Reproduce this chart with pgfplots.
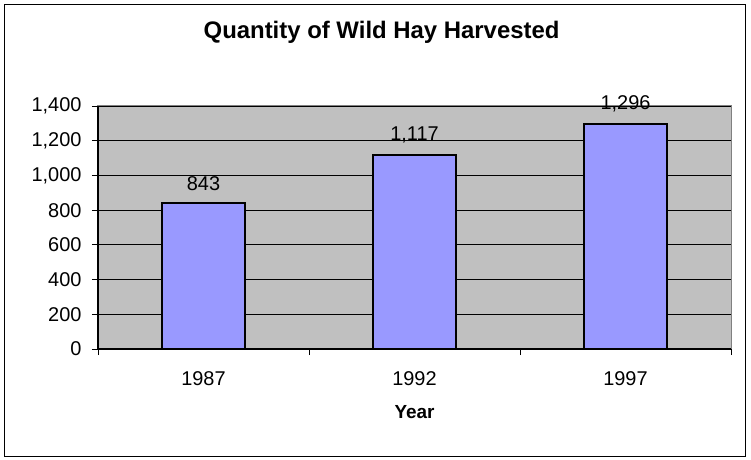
\documentclass[border=0pt]{standalone}
\usepackage{pgfplots}
\pgfplotsset{compat=1.18}
\usepackage{fontspec}
\setmainfont{Liberation Sans}
\definecolor{plotgray}{HTML}{C0C0C0}
\definecolor{barblue}{HTML}{9999FF}
\begin{document}
\begin{tikzpicture}
  \useasboundingbox (-98bp,-111bp) rectangle (653bp,349bp);
  \draw[line width=1bp] (-93bp,-107bp) rectangle (647bp,344bp);
  \begin{axis}[
    at={(0,0)}, anchor=south west,
    scale only axis,
    width=633bp, height=243bp,
    xmin=-0.5, xmax=2.5,
    ymin=0, ymax=1400,
    axis x line*=bottom, axis y line*=left,
    axis line style={-, black, line width=1.2bp},
    axis background/.style={fill=plotgray, draw=gray, line width=1bp},
    xtick={0,1,2},
    xticklabels={1987,1992,1997},
    major x tick style={draw=none},
    minor xtick={-0.5,0.5,1.5,2.5},
    minor tick length=6bp,
    ytick={0,200,...,1400},
    major tick length=6bp,
    tick align=outside,
    tick style={black, line width=0.8bp},
    ymajorgrids,
    grid style={black, line width=0.8bp},
    /pgf/number format/assume math mode=true,
    /pgf/number format/1000 sep={,},
    ticklabel style={font=\fontsize{20}{24}\selectfont},
    yticklabel style={xshift=-7bp},
    xticklabel style={yshift=-13bp},
    title={\textbf{Quantity of Wild Hay Harvested}},
    title style={font=\fontsize{24}{28}\selectfont, at={(axis description cs:0.448,1)}, anchor=center, yshift=68bp},
    xlabel={\textbf{Year}},
    xlabel style={font=\fontsize{19}{23}\selectfont, at={(axis description cs:0.5,0)}, anchor=center, yshift=-63bp},
    ybar, bar width=0.398,
    nodes near coords,
    nodes near coords style={font=\fontsize{20}{24}\selectfont, /pgf/number format/1000 sep={,}, yshift=8bp},
    clip=false,
  ]
  \addplot[fill=barblue, draw=black, line width=2bp] coordinates {(0,843) (1,1117) (2,1296)};
  \end{axis}
\end{tikzpicture}
\end{document}
